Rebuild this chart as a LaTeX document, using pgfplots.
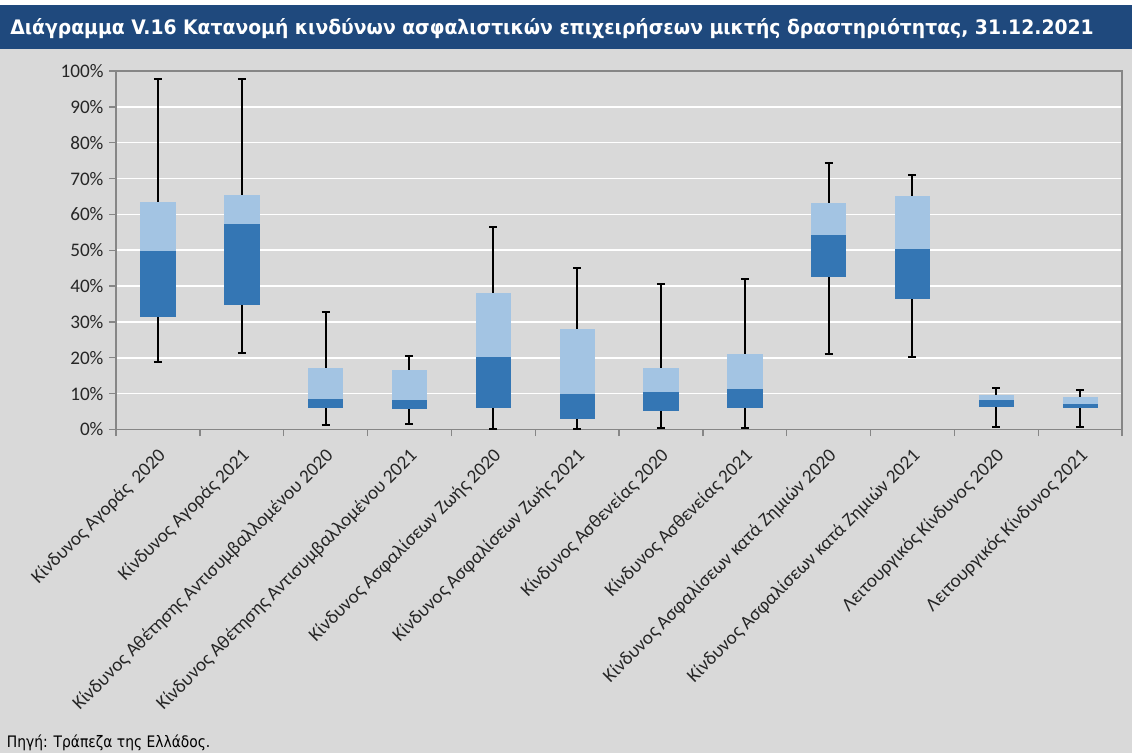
\documentclass[border=0pt]{standalone}
\usepackage{fontspec}
\setmainfont{Carlito}
\newfontfamily\tahoma{DejaVu Sans}
\usepackage{pgfplots}
\pgfplotsset{compat=1.18}
\usepgfplotslibrary{statistics}
\definecolor{titlebar}{RGB}{31,73,125}
\definecolor{bggrey}{RGB}{217,217,217}
\definecolor{boxdark}{RGB}{52,118,180}
\definecolor{boxlight}{RGB}{163,196,227}
\definecolor{axisgrey}{RGB}{134,134,134}
\begin{document}
\begin{tikzpicture}
\fill[bggrey] (0,0) rectangle (679.2pt,451.8pt);
\fill[white] (0,448.8pt) rectangle (679.2pt,451.8pt);
\fill[titlebar] (0,422.4pt) rectangle (679.2pt,448.8pt);
\node[anchor=base west, inner sep=0pt, text=white] at (6pt,430.8pt)
  {\resizebox{650pt}{\height}{\tahoma\fontsize{12}{14}\selectfont\bfseries Διάγραμμα V.16 Κατανομή κινδύνων ασφαλιστικών επιχειρήσεων μικτής δραστηριότητας, 31.12.2021}};
\node[anchor=base west, inner sep=0pt, text=black] at (4pt,3pt)
  {\resizebox{122pt}{\height}{\tahoma\fontsize{9.5}{11}\selectfont Πηγή: Τράπεζα της Ελλάδος.}};
\begin{axis}[
  at={(69.6pt,194.1pt)}, anchor=south west,
  scale only axis, width=603.6pt, height=215.1pt,
  xmin=-0.5, xmax=11.5, ymin=0, ymax=100,
  axis line style={axisgrey, line width=0.8pt},
  ytick={0,10,...,100},
  yticklabel={\pgfmathprintnumber{\tick}\%},
  /pgf/number format/assume math mode=true,
  ymajorgrids, grid style={white, line width=0.9pt},
  xtick={0,...,11},
  xticklabels={
    Κίνδυνος Αγοράς~ 2020,
    Κίνδυνος Αγοράς 2021,
    Κίνδυνος Αθέτησης Αντισυμβαλλομένου 2020,
    Κίνδυνος Αθέτησης Αντισυμβαλλομένου 2021,
    Κίνδυνος Ασφαλίσεων Ζωής 2020,
    Κίνδυνος Ασφαλίσεων Ζωής 2021,
    Κίνδυνος Ασθενείας 2020,
    Κίνδυνος Ασθενείας 2021,
    Κίνδυνος Ασφαλίσεων κατά Ζημιών 2020,
    Κίνδυνος Ασφαλίσεων κατά Ζημιών 2021,
    Λειτουργικός Κίνδυνος 2020,
    Λειτουργικός Κίνδυνος 2021},
  minor xtick={-0.5,0.5,...,11.5},
  major x tick style={draw=none},
  tick align=outside,
  major tick length=4pt, minor tick length=4pt,
  tick style={axisgrey, line width=0.8pt},
  xtick pos=bottom, ytick pos=left,
  ticklabel style={font=\fontsize{11.5}{13}\selectfont, text=black!85},
  xticklabel style={rotate=45, anchor=north east, inner sep=1pt, xshift=-4pt, yshift=-3pt},
  boxplot/draw direction=y,
  boxplot/box extend=0.41,
  boxplot/whisker extend=0.095,
  boxplot/every whisker/.style={black, line width=1.2pt},
  boxplot/draw/box/.code={%
    \fill[boxdark] (boxplot box cs:\pgfplotsboxplotvalue{lower quartile},0) rectangle (boxplot box cs:\pgfplotsboxplotvalue{median},1);
    \fill[boxlight] (boxplot box cs:\pgfplotsboxplotvalue{median},0) rectangle (boxplot box cs:\pgfplotsboxplotvalue{upper quartile},1);
  },
  boxplot/draw/median/.code={},
]
\addplot[boxplot prepared={draw position=0, lower whisker=18.9, lower quartile=31.5, median=50.1, upper quartile=63.4, upper whisker=97.7}] coordinates {};
\addplot[boxplot prepared={draw position=1, lower whisker=21.2, lower quartile=34.9, median=57.4, upper quartile=65.3, upper whisker=97.9}] coordinates {};
\addplot[boxplot prepared={draw position=2, lower whisker=1.2, lower quartile=6.1, median=8.6, upper quartile=17.0, upper whisker=32.7}] coordinates {};
\addplot[boxplot prepared={draw position=3, lower whisker=1.5, lower quartile=5.9, median=8.4, upper quartile=16.5, upper whisker=20.5}] coordinates {};
\addplot[boxplot prepared={draw position=4, lower whisker=0, lower quartile=6.3, median=20.3, upper quartile=38.1, upper whisker=56.5}] coordinates {};
\addplot[boxplot prepared={draw position=5, lower whisker=0, lower quartile=3.2, median=10.2, upper quartile=27.9, upper whisker=45.1}] coordinates {};
\addplot[boxplot prepared={draw position=6, lower whisker=0.4, lower quartile=5.3, median=10.7, upper quartile=17.1, upper whisker=40.6}] coordinates {};
\addplot[boxplot prepared={draw position=7, lower whisker=0.4, lower quartile=6.1, median=11.4, upper quartile=20.9, upper whisker=42.0}] coordinates {};
\addplot[boxplot prepared={draw position=8, lower whisker=21.1, lower quartile=42.7, median=54.3, upper quartile=63.2, upper whisker=74.3}] coordinates {};
\addplot[boxplot prepared={draw position=9, lower whisker=20.1, lower quartile=36.5, median=50.4, upper quartile=65.0, upper whisker=71.0}] coordinates {};
\addplot[boxplot prepared={draw position=10, lower whisker=0.6, lower quartile=6.6, median=8.3, upper quartile=9.4, upper whisker=11.5}] coordinates {};
\addplot[boxplot prepared={draw position=11, lower whisker=0.6, lower quartile=6.3, median=7.3, upper quartile=9.1, upper whisker=11.0}] coordinates {};
\end{axis}
\pgfresetboundingbox
\path[use as bounding box] (0,0) rectangle (679.2pt,451.8pt);
\end{tikzpicture}
\end{document}
